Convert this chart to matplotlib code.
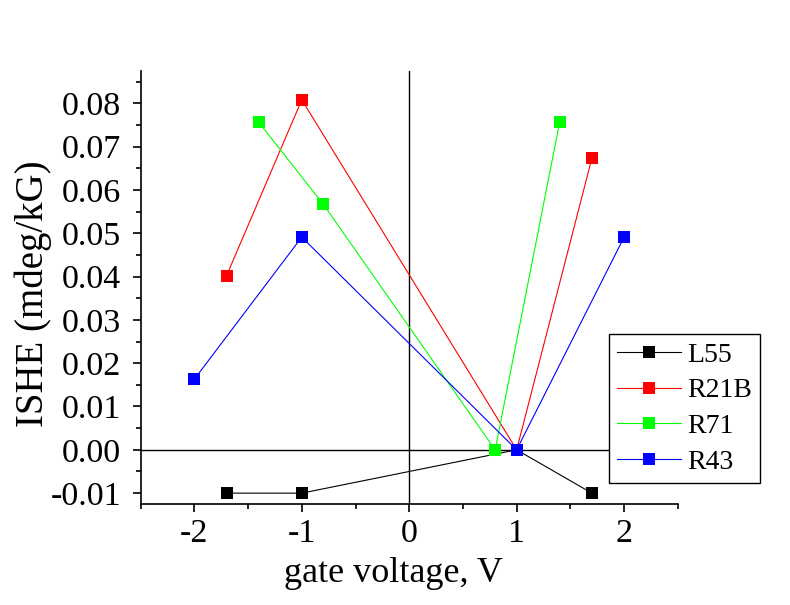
import numpy as np
import matplotlib.pyplot as plt
from matplotlib.ticker import MultipleLocator, FormatStrFormatter

plt.rcParams['font.family'] = ['Liberation Serif', 'DejaVu Serif']

# gate voltage (V) and ISHE (mdeg/kG) for each sample
l55_x = [-1.7, -1.0, 1.0, 1.7]
l55_y = [-0.0100, -0.0100, 0.0000, -0.0100]

r21b_x = [-1.7, -1.0, 1.0, 1.7]
r21b_y = [0.0402, 0.0808, 0.0000, 0.0673]

r71_x = [-1.4, -0.8, 0.8, 1.4]
r71_y = [0.0756, 0.0567, 0.0000, 0.0756]

r43_x = [-2.0, -1.0, 1.0, 2.0]
r43_y = [0.0163, 0.0491, 0.0000, 0.0491]

series = [
    ("L55", l55_x, l55_y, "black"),
    ("R21B", r21b_x, r21b_y, "#ff0000"),
    ("R71", r71_x, r71_y, "#00ff00"),
    ("R43", r43_x, r43_y, "#0000ff"),
]

fig = plt.figure(figsize=(7.9, 6.05), dpi=100)
ax = fig.add_axes([0.178, 0.167, 0.680, 0.716])

# zero axes drawn through the origin
ax.axhline(0, color="black", lw=1.0, zorder=1)
ax.axvline(0, color="black", lw=1.0, zorder=1)

for name, x, y, c in series:
    ax.plot(x, y, color=c, lw=0.8, marker="s", markersize=8,
            markeredgewidth=0, label=name, zorder=3)

ax.set_xlim(-2.5, 2.5)
ax.set_ylim(-0.0125, 0.0875)
ax.xaxis.set_major_locator(MultipleLocator(1))
ax.xaxis.set_minor_locator(MultipleLocator(0.5))
ax.yaxis.set_major_locator(MultipleLocator(0.01))
ax.yaxis.set_minor_locator(MultipleLocator(0.005))
ax.yaxis.set_major_formatter(FormatStrFormatter("%.2f"))
ax.xaxis.set_major_formatter(FormatStrFormatter("%d"))

for s in ["top", "right"]:
    ax.spines[s].set_visible(False)
for s in ["left", "bottom"]:
    ax.spines[s].set_linewidth(1.2)

ax.tick_params(which="major", direction="out", length=6, width=1.2, labelsize=24.5)
ax.tick_params(which="minor", direction="out", length=3.5, width=1.2)
ax.tick_params(axis="x", which="major", pad=4.5)
ax.tick_params(axis="y", which="major", pad=8)

ax.set_xlabel("gate voltage, V", fontsize=26)
ax.set_ylabel("ISHE (mdeg/kG)", fontsize=28)
ax.xaxis.set_label_coords(0.47, -0.122)
ax.yaxis.set_label_coords(-0.165, 0.485)

leg = ax.legend(loc="upper left", bbox_to_anchor=(0.872, 0.393), fontsize=20,
                frameon=True, fancybox=False, framealpha=1, edgecolor="black",
                handlelength=2.3, labelspacing=0.37, borderpad=0.3,
                handletextpad=0.2, borderaxespad=0)
leg.get_frame().set_linewidth(1.0)

fig.savefig("out.png", dpi=100)
